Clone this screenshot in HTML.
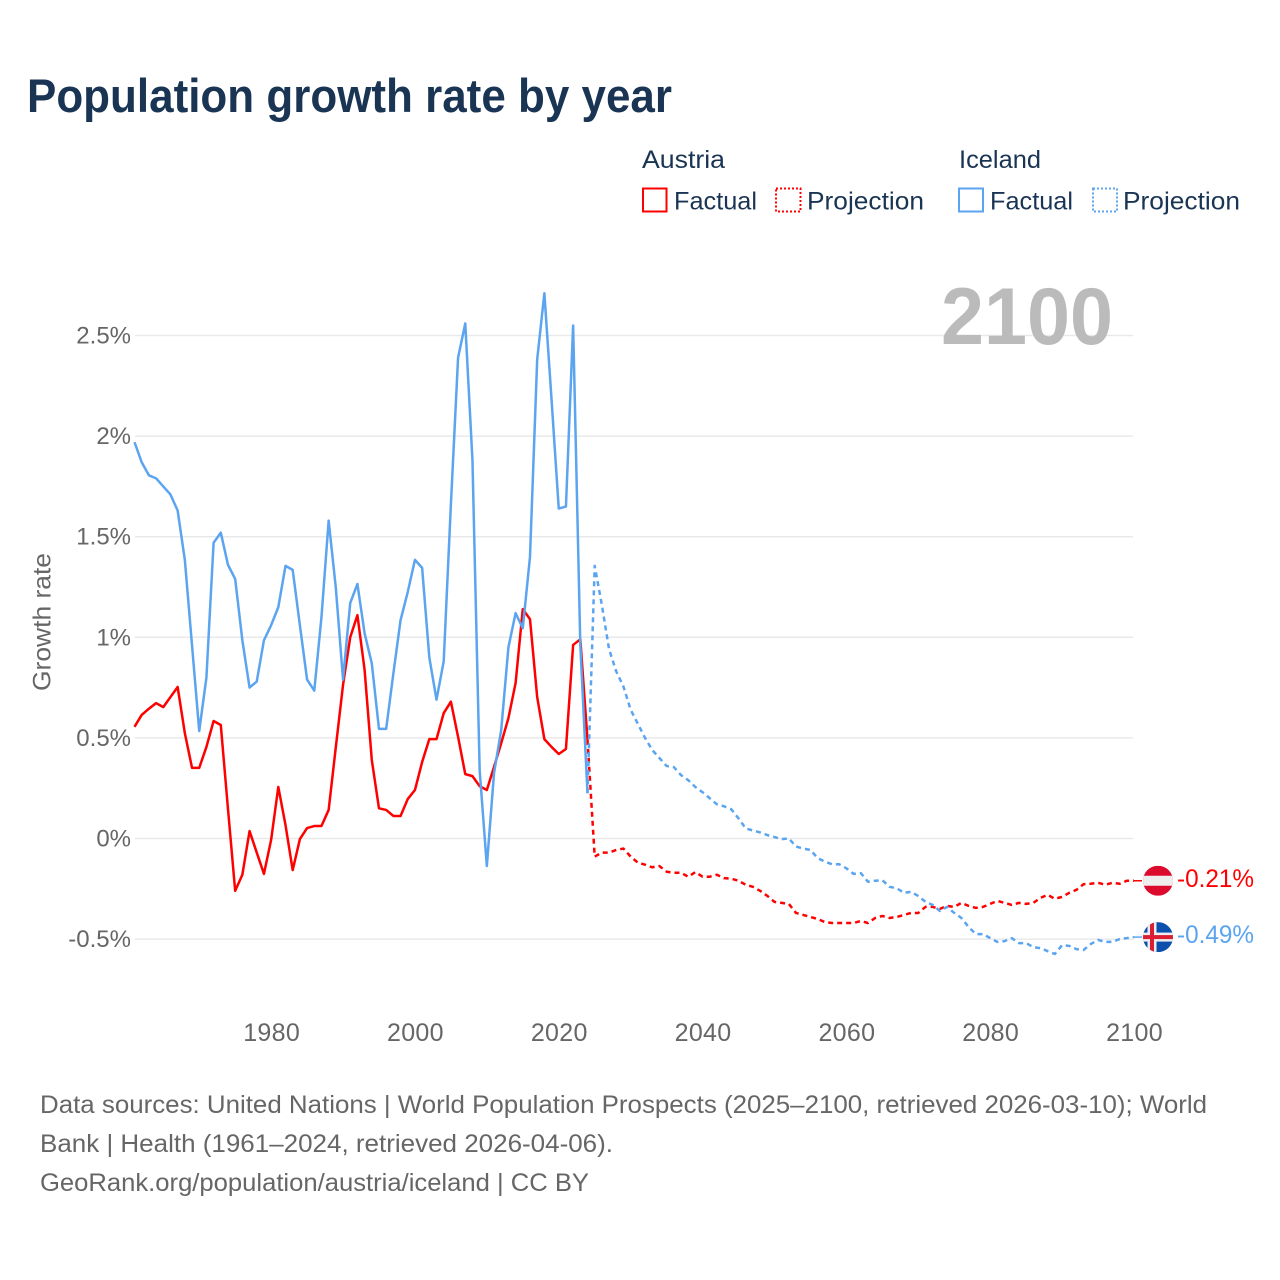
<!DOCTYPE html>
<html lang="en">
<head>
<meta charset="utf-8">
<title>Population growth rate by year</title>
<style>
html,body{margin:0;padding:0;background:#fff;width:1280px;height:1280px;overflow:hidden}
svg{display:block}
text{font-family:"Liberation Sans",sans-serif}
</style>
</head>
<body>
<svg id="chart" xmlns="http://www.w3.org/2000/svg" width="1280" height="1280" viewBox="0 0 1280 1280">
  <defs>
    <clipPath id="flag-clip"><circle cx="0" cy="0" r="15"/></clipPath>
  </defs>
  <text x="27" y="112" font-size="47" font-weight="700" fill="#1a3454" textLength="645" lengthAdjust="spacingAndGlyphs">Population growth rate by year</text>

  <g>
    <text x="642" y="168" font-size="25" fill="#1a3454" textLength="83" lengthAdjust="spacingAndGlyphs">Austria</text>
    <rect x="643" y="188.5" width="23.5" height="23" fill="none" stroke="#ff0000" stroke-width="2"/>
    <text x="674" y="209.5" font-size="25" fill="#1a3454" textLength="83" lengthAdjust="spacingAndGlyphs">Factual</text>
    <rect x="776" y="188.5" width="24.5" height="23" fill="none" stroke="#ff0000" stroke-width="2" stroke-dasharray="2 2"/>
    <text x="807" y="209.5" font-size="25" fill="#1a3454" textLength="117" lengthAdjust="spacingAndGlyphs">Projection</text>
    <text x="959" y="168" font-size="25" fill="#1a3454" textLength="82" lengthAdjust="spacingAndGlyphs">Iceland</text>
    <rect x="959" y="188.5" width="24" height="23" fill="none" stroke="#5ba4f0" stroke-width="2"/>
    <text x="990" y="209.5" font-size="25" fill="#1a3454" textLength="83" lengthAdjust="spacingAndGlyphs">Factual</text>
    <rect x="1093" y="188.5" width="24" height="23" fill="none" stroke="#5ba4f0" stroke-width="2" stroke-dasharray="2 2"/>
    <text x="1123" y="209.5" font-size="25" fill="#1a3454" textLength="117" lengthAdjust="spacingAndGlyphs">Projection</text>
  </g>

  <g id="grid"></g>
  <g id="y-ticks"></g>
  <g id="x-ticks"></g>
  <text transform="translate(50.5,622) rotate(-90)" text-anchor="middle" font-size="25" fill="#666666" textLength="138" lengthAdjust="spacingAndGlyphs">Growth rate</text>
  <text x="941" y="344" font-size="81" font-weight="700" fill="#bbbbbb" textLength="172" lengthAdjust="spacingAndGlyphs">2100</text>
  <g id="series"></g>

  <g id="flag-austria">
    <g clip-path="url(#flag-clip)">
      <rect x="-15" y="-15" width="30" height="30" fill="#dc0a2d"/>
      <rect x="-15" y="-5" width="30" height="10" fill="#eeeeee"/>
    </g>
  </g>
  <g id="flag-iceland">
    <g clip-path="url(#flag-clip)">
      <rect x="-15" y="-15" width="30" height="30" fill="#0b50ac"/>
      <rect x="-10.5" y="-15" width="9" height="30" fill="#eeeeee"/>
      <rect x="-15" y="-4.5" width="30" height="9" fill="#eeeeee"/>
      <rect x="-8" y="-15" width="4" height="30" fill="#dc1e35"/>
      <rect x="-15" y="-2" width="30" height="4" fill="#dc1e35"/>
    </g>
  </g>
  <g id="end-labels"></g>

  <g>
    <text x="40" y="1113" font-size="25" fill="#666666" textLength="1167" lengthAdjust="spacingAndGlyphs">Data sources: United Nations | World Population Prospects (2025–2100, retrieved 2026-03-10); World</text>
    <text x="40" y="1152" font-size="25" fill="#666666" textLength="573" lengthAdjust="spacingAndGlyphs">Bank | Health (1961–2024, retrieved 2026-04-06).</text>
    <text x="40" y="1191" font-size="25" fill="#666666" textLength="549" lengthAdjust="spacingAndGlyphs">GeoRank.org/population/austria/iceland | CC BY</text>
  </g>
</svg>
<script>
var xTickYears = [1980, 2000, 2020, 2040, 2060, 2080, 2100];
var yTickValues = [2.5, 2, 1.5, 1, 0.5, 0, -0.5];
var yTickLabels = ["2.5%", "2%", "1.5%", "1%", "0.5%", "0%", "-0.5%"];
var factualStartYear = 1961;
var projectionStartYear = 2025;

var austriaFactual = [0.555,0.614,0.645,0.673,0.653,0.703,0.753,0.524,0.351,0.351,0.455,0.584,0.564,0.147,-0.26,-0.18,0.037,-0.07,-0.176,-0.007,0.256,0.067,-0.157,-0.003,0.052,0.062,0.062,0.142,0.455,0.763,1.0,1.11,0.838,0.39,0.15,0.142,0.112,0.112,0.196,0.241,0.38,0.494,0.494,0.623,0.68,0.505,0.32,0.31,0.26,0.241,0.356,0.474,0.598,0.773,1.14,1.09,0.703,0.494,0.455,0.42,0.445,0.962,0.99,0.49];
var icelandFactual = [1.97,1.87,1.805,1.79,1.75,1.71,1.63,1.385,0.96,0.534,0.80,1.47,1.52,1.36,1.29,0.985,0.75,0.78,0.985,1.06,1.15,1.355,1.335,1.06,0.79,0.735,1.10,1.58,1.245,0.79,1.17,1.265,1.02,0.87,0.545,0.545,0.82,1.085,1.225,1.385,1.345,0.90,0.69,0.88,1.66,2.39,2.56,1.88,0.34,-0.137,0.325,0.54,0.95,1.12,1.045,1.40,2.38,2.71,2.18,1.64,1.65,2.55,0.96,0.225];
var austriaProjection = [-0.09,-0.07,-0.07,-0.057,-0.05,-0.09,-0.12,-0.13,-0.143,-0.137,-0.165,-0.17,-0.17,-0.19,-0.167,-0.19,-0.19,-0.18,-0.197,-0.2,-0.21,-0.23,-0.24,-0.26,-0.285,-0.315,-0.32,-0.325,-0.37,-0.38,-0.39,-0.40,-0.415,-0.42,-0.42,-0.42,-0.42,-0.41,-0.42,-0.395,-0.385,-0.395,-0.39,-0.38,-0.37,-0.37,-0.34,-0.34,-0.35,-0.335,-0.34,-0.32,-0.335,-0.345,-0.34,-0.325,-0.31,-0.32,-0.33,-0.32,-0.325,-0.32,-0.295,-0.28,-0.30,-0.29,-0.27,-0.255,-0.227,-0.225,-0.22,-0.23,-0.22,-0.225,-0.21,-0.21];
var icelandProjection = [1.355,1.16,0.94,0.83,0.755,0.64,0.57,0.5,0.44,0.40,0.36,0.355,0.315,0.29,0.256,0.23,0.20,0.17,0.16,0.145,0.10,0.05,0.04,0.03,0.017,0.007,-0.003,0.0,-0.04,-0.05,-0.057,-0.097,-0.115,-0.128,-0.128,-0.148,-0.176,-0.172,-0.215,-0.21,-0.207,-0.24,-0.247,-0.27,-0.265,-0.286,-0.315,-0.33,-0.36,-0.34,-0.37,-0.395,-0.44,-0.475,-0.475,-0.495,-0.514,-0.51,-0.495,-0.52,-0.52,-0.54,-0.545,-0.56,-0.574,-0.53,-0.534,-0.55,-0.554,-0.524,-0.504,-0.514,-0.514,-0.5,-0.495,-0.49];

var SVG_NS = 'http://www.w3.org/2000/svg';
var RED = '#ff0000';
var BLUE = '#5ba4f0';

function xScale(year) { return 134.5 + (year - 1961) * (1134 - 134.5) / 139; }
function yScale(v) { return 838.5 - v * 201.2; }
function make(tag) { return document.createElementNS(SVG_NS, tag); }
function pointsFrom(values, startYear) {
  return values.map(function (v, i) {
    return xScale(startYear + i).toFixed(2) + ',' + yScale(v).toFixed(2);
  });
}

var gridGroup = document.getElementById('grid');
var yTickGroup = document.getElementById('y-ticks');
yTickValues.forEach(function (v, i) {
  var line = make('line');
  
  
  line.setAttribute('x1', 135);
  line.setAttribute('x2', 1133);
  line.setAttribute('y1', yScale(v));
  line.setAttribute('y2', yScale(v));
  line.setAttribute('stroke', '#e9e9e9');
  line.setAttribute('stroke-width', 1.5);
  gridGroup.appendChild(line);
  var label = make('text');
  
  
  label.setAttribute('x', 131);
  label.setAttribute('y', yScale(v) + 8);
  label.setAttribute('text-anchor', 'end');
  label.setAttribute('font-size', 24);
  label.setAttribute('fill', '#666666');
  label.textContent = yTickLabels[i];
  yTickGroup.appendChild(label);
});

var xTickGroup = document.getElementById('x-ticks');
xTickYears.forEach(function (year) {
  var label = make('text');
  
  
  label.setAttribute('x', xScale(year) + 0.5);
  label.setAttribute('y', 1041);
  label.setAttribute('text-anchor', 'middle');
  label.setAttribute('font-size', 25);
  label.setAttribute('letter-spacing', '0.3');
  label.setAttribute('fill', '#666666');
  label.textContent = String(year);
  xTickGroup.appendChild(label);
});

var seriesGroup = document.getElementById('series');
function drawLine(name, pts, color, dashed) {
  var line = make('polyline');
  
  
  line.setAttribute('points', pts.join(' '));
  line.setAttribute('fill', 'none');
  line.setAttribute('stroke', color);
  line.setAttribute('stroke-width', 2.5);
  line.setAttribute('stroke-linejoin', 'round');
  if (dashed) { line.setAttribute('stroke-dasharray', '5 4'); }
  seriesGroup.appendChild(line);
}
function lastPointOf(values) {
  return pointsFrom(values, factualStartYear).slice(-1);
}
drawLine('austria-factual-line', pointsFrom(austriaFactual, factualStartYear), RED, false);
drawLine('austria-projection-line', lastPointOf(austriaFactual).concat(pointsFrom(austriaProjection, projectionStartYear)), RED, true);
drawLine('iceland-factual-line', pointsFrom(icelandFactual, factualStartYear), BLUE, false);
drawLine('iceland-projection-line', lastPointOf(icelandFactual).concat(pointsFrom(icelandProjection, projectionStartYear)), BLUE, true);

var endGroup = document.getElementById('end-labels');
function drawEnd(name, flagId, values, color) {
  var last = values[values.length - 1];
  var y = yScale(last);
  document.getElementById(flagId).setAttribute('transform', 'translate(1158,' + y + ')');
  var leader = make('line');
  
  
  leader.setAttribute('x1', 1134);
  leader.setAttribute('x2', 1142);
  leader.setAttribute('y1', y);
  leader.setAttribute('y2', y);
  leader.setAttribute('stroke', color);
  leader.setAttribute('stroke-width', 1.5);
  endGroup.appendChild(leader);
  var label = make('text');
  
  
  label.setAttribute('x', 1177);
  label.setAttribute('y', y + 6);
  label.setAttribute('font-size', 25);
  label.setAttribute('fill', color);
  label.setAttribute('textLength', 77);
  label.setAttribute('lengthAdjust', 'spacingAndGlyphs');
  label.textContent = last.toFixed(2) + '%';
  endGroup.appendChild(label);
}
drawEnd('austria', 'flag-austria', austriaProjection, RED);
drawEnd('iceland', 'flag-iceland', icelandProjection, BLUE);
</script>
</body>
</html>
